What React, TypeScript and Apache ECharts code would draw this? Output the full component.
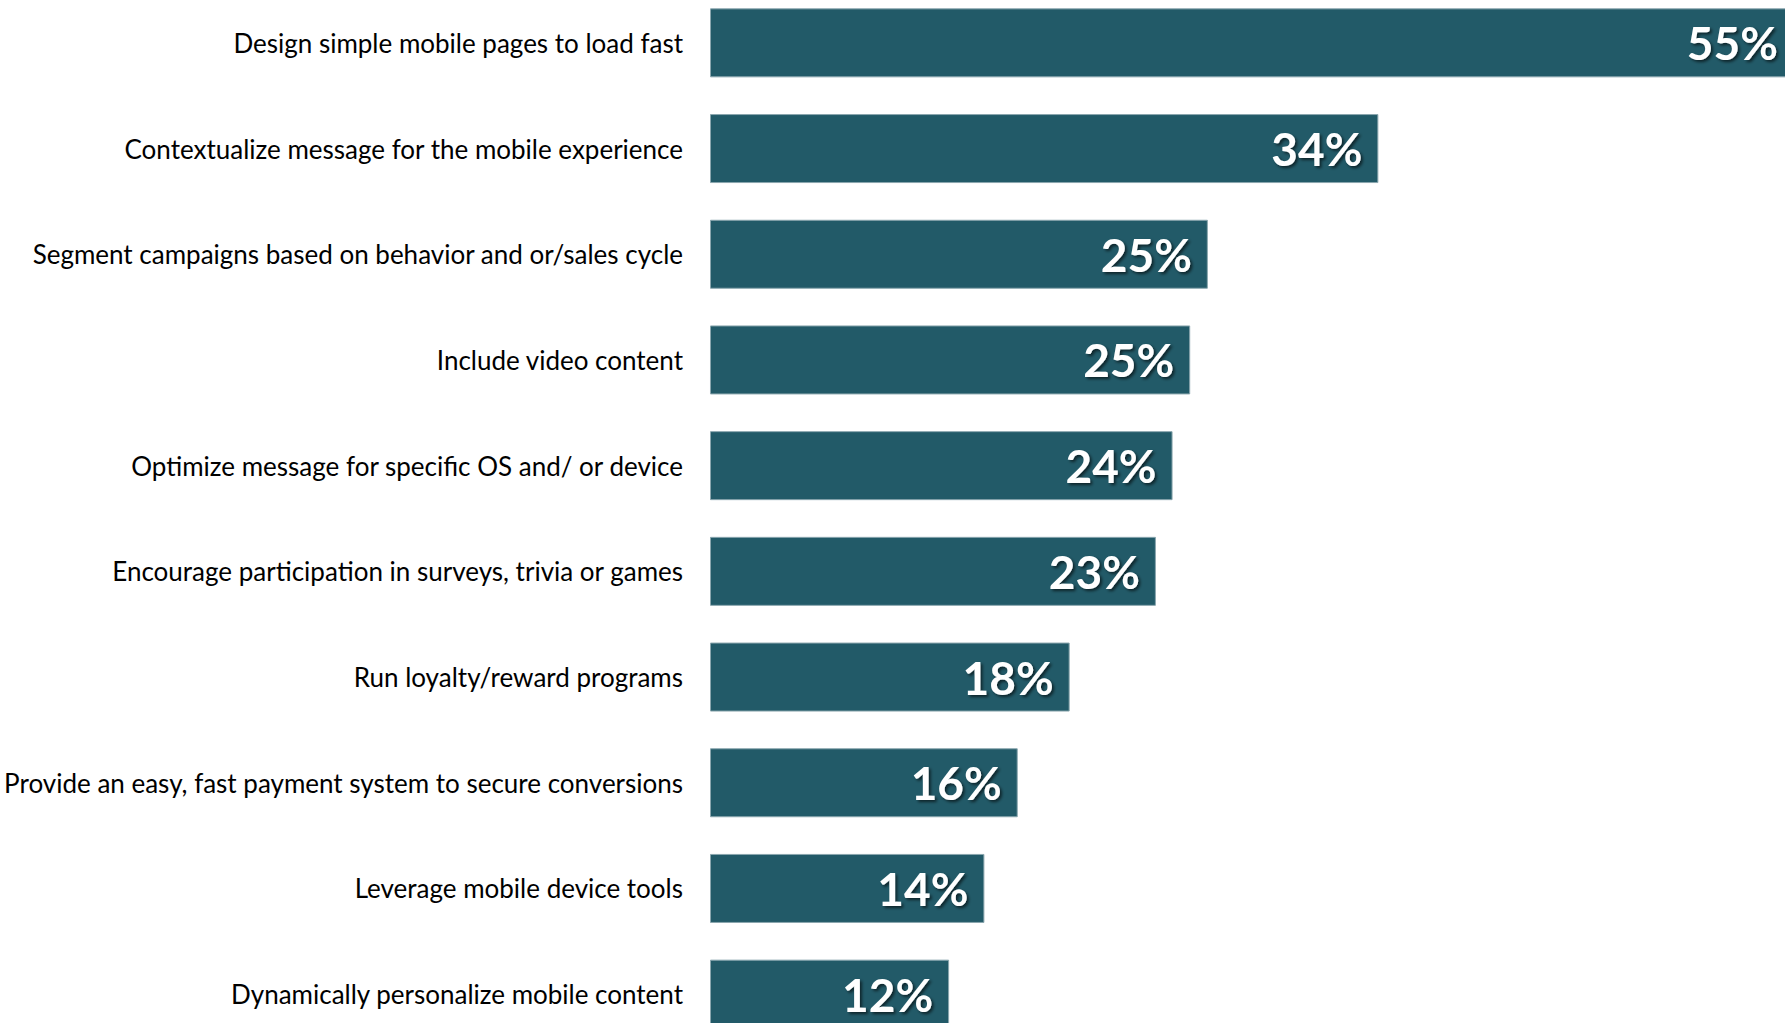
import React, { useEffect, useRef } from "react";
import * as echarts from "echarts";

const categories = [
  "Design simple mobile pages to load fast",
  "Contextualize message for the mobile experience",
  "Segment campaigns based on behavior and or/sales cycle",
  "Include video content",
  "Optimize message for specific OS and/ or device",
  "Encourage participation in surveys, trivia or games",
  "Run loyalty/reward programs",
  "Provide an easy, fast payment system to secure conversions",
  "Leverage mobile device tools",
  "Dynamically personalize mobile content",
];

const values = [55.3, 34.1, 25.4, 24.5, 23.6, 22.75, 18.35, 15.7, 14.0, 12.2];
const valueLabels = ["55%", "34%", "25%", "25%", "24%", "23%", "18%", "16%", "14%", "12%"];

export default function App() {
  const ref = useRef<HTMLDivElement>(null);
  useEffect(() => {
    if (!ref.current) return;
    const chart = echarts.init(ref.current, null, { renderer: "svg" });
    chart.setOption({
      animation: false,
      backgroundColor: "#ffffff",
      grid: {
        left: 710,
        top: -10,
        width: 1176,
        height: 1057,
        containLabel: false,
        outerBoundsMode: "none",
      },
      xAxis: {
        type: "value",
        min: 0,
        max: 60,
        show: false,
        splitLine: { show: false },
      },
      yAxis: {
        type: "category",
        data: categories,
        inverse: true,
        axisLine: { show: false },
        axisTick: { show: false },
        splitLine: { show: false },
        axisLabel: {
          margin: 27,
          fontFamily: "Lato",
          fontSize: 26,
          color: "#000000",
        },
      },
      series: [
        {
          type: "bar",
          data: values,
          barWidth: 69,
          itemStyle: {
            color: "#225A68",
            borderColor: "#8aa6ae",
            borderWidth: 1,
          },
          label: {
            show: true,
            position: "insideRight",
            distance: 16,
            formatter: (p: any) => valueLabels[p.dataIndex],
            fontFamily: "Lato",
            fontWeight: "bold",
            fontSize: 46,
            color: "#ffffff",
            textShadowColor: "rgba(0,0,0,0.6)",
            textShadowBlur: 3,
            textShadowOffsetX: 2,
            textShadowOffsetY: 2,
          },
        },
      ],
    });
    return () => chart.dispose();
  }, []);
  return (
    <div
      ref={ref}
      style={{ position: "absolute", left: 0, top: 0, width: 1785, height: 1023, overflow: "hidden" }}
    />
  );
}
